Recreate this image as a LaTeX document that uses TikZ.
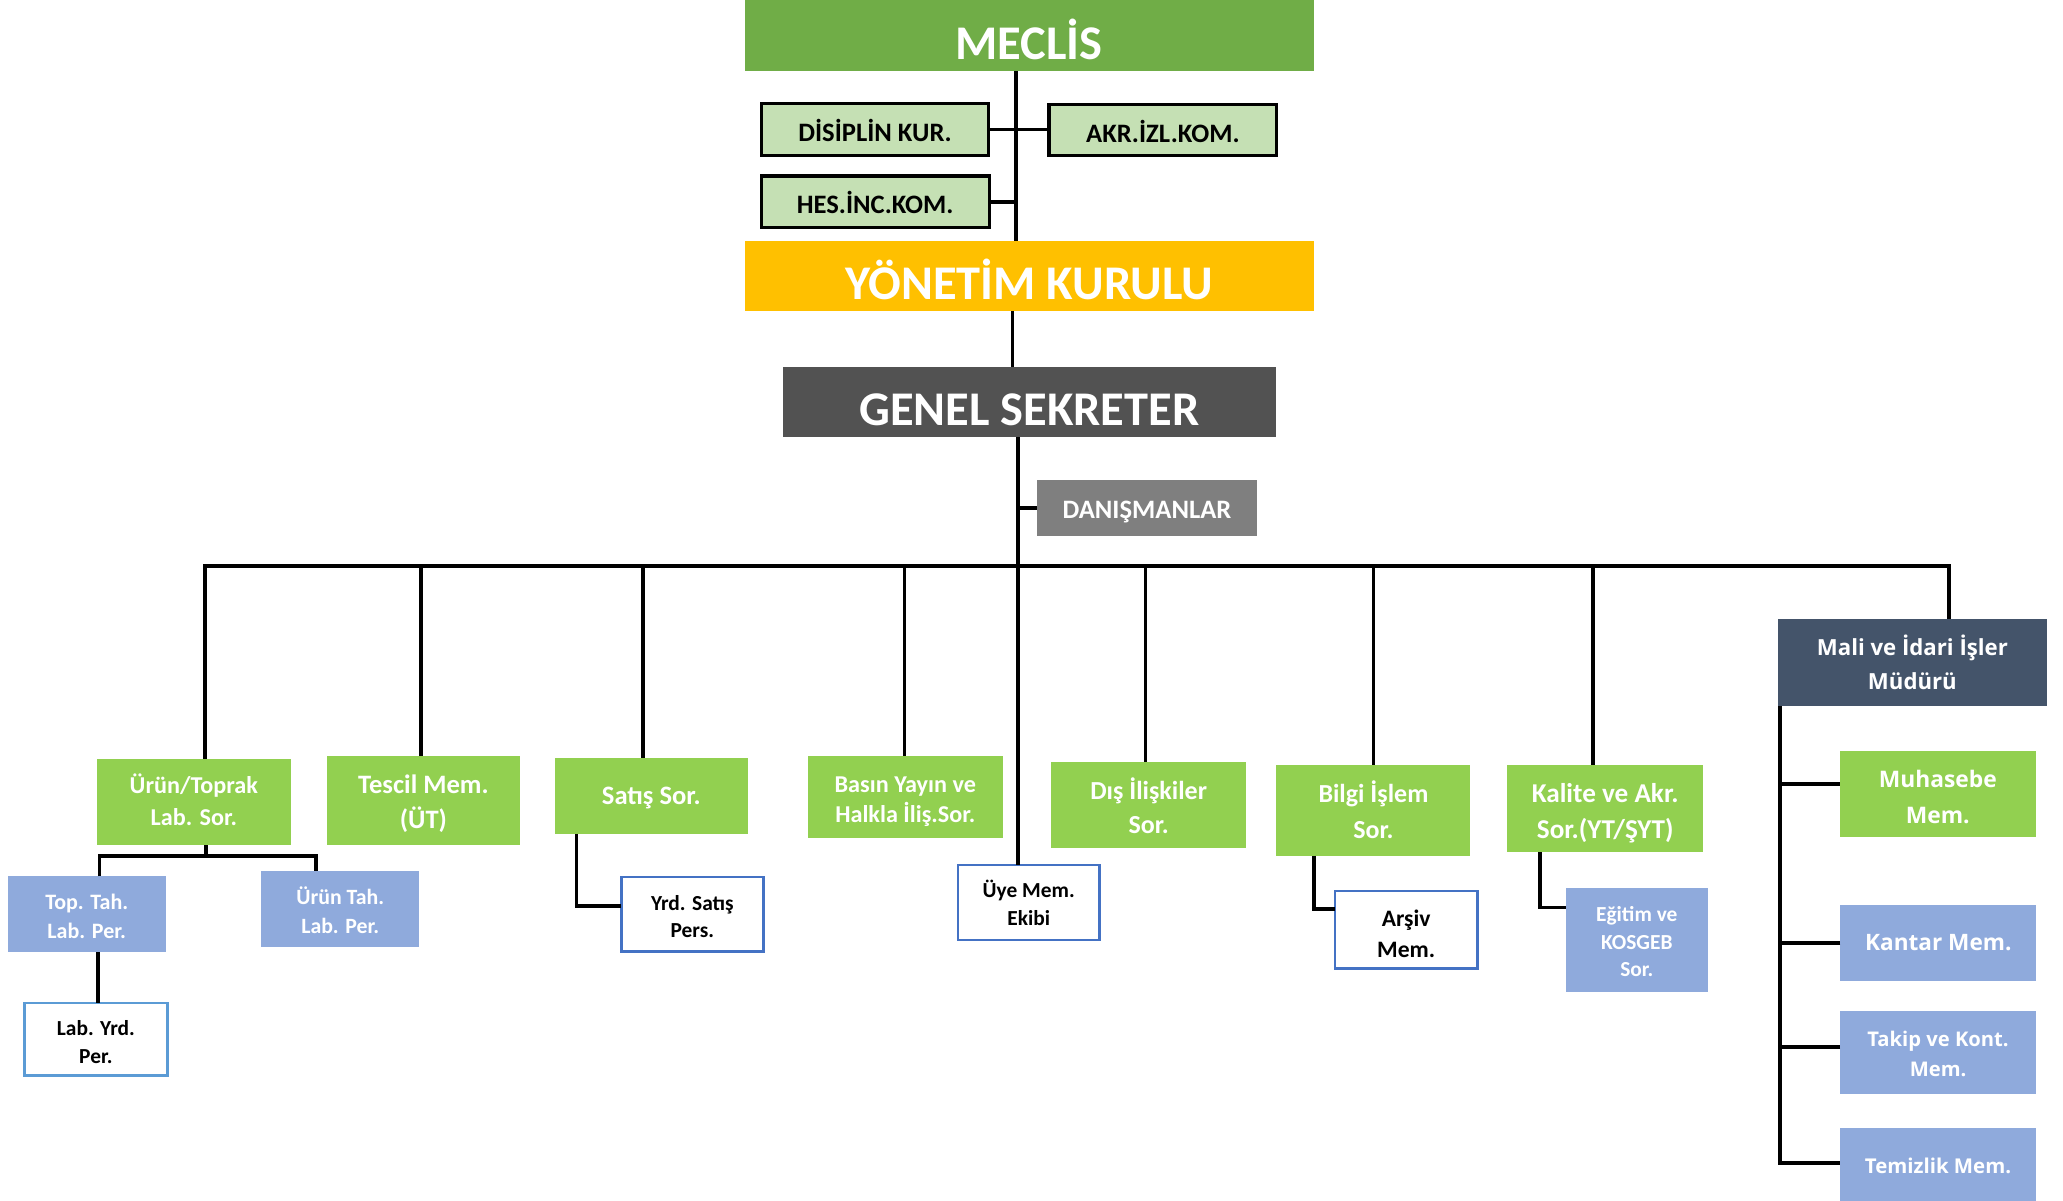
\documentclass[tikz,border=0pt]{standalone}
\usepackage{fontspec}
\setmainfont{Carlito}
\newfontfamily\osans{Open Sans}
\usetikzlibrary{calc}
\definecolor{cMeclis}{HTML}{70AD47}
\definecolor{cKom}{HTML}{C5E0B4}
\definecolor{cYon}{HTML}{FFC000}
\definecolor{cGen}{HTML}{525252}
\definecolor{cDan}{HTML}{7F7F7F}
\definecolor{cGreen}{HTML}{92D050}
\definecolor{cBlue}{HTML}{8FAADC}
\definecolor{cNavy}{HTML}{44546A}
\definecolor{cBorder}{HTML}{4472C4}
\definecolor{cBorderL}{HTML}{5B9BD5}
\newcommand{\myfs}[2]{\fontsize{#1}{#2}\selectfont\bfseries}
% multi-line text with fixed first-line height / last-line depth (Carlito / Open Sans)
\newcommand{\mlc}[2]{\rule{0pt}{\dimexpr0.944em+#1pt\relax}#2\rule[-0.3em]{0pt}{0.3em}}
\newcommand{\mlo}[2]{\rule{0pt}{\dimexpr1.014em+#1pt\relax}#2\rule[-0.3em]{0pt}{0.3em}}
\newcommand{\orgbox}[7]{\node[#1, anchor=north west, minimum width={(#4-#2)*0.66125pt}, minimum height={(#5-#3)*0.66125pt}] (#6) at (#2,#3) {#7};}
\tikzset{
  bx/.style={rectangle, inner sep=1pt, outer sep=0pt, align=center},
  big/.style={bx, text=white, font=\myfs{24.2}{28}, text height=23.5pt, text depth=0pt},
  kom/.style={bx, fill=cKom, draw=black, line width=1.6pt, text=black, font=\myfs{13.3}{16}, text height=12.2pt, text depth=0pt},
  gbox/.style={bx, fill=cGreen, text=white},
  bbox/.style={bx, fill=cBlue, text=white},
  wbox/.style={bx, fill=white, draw=cBorder, line width=1.3pt, text=black},
  conn/.style={line width=1.9pt, draw=black},
  busline/.style={line width=2pt, draw=black}
}
\begin{document}
\begin{tikzpicture}[x=0.66125pt, y=-0.66125pt]
\useasboundingbox (0,0) rectangle (1560,908);

% top chain
\orgbox{big, fill=cMeclis}{563}{0}{993.4}{54}{meclis}{MECLİS}
\orgbox{kom}{575.6}{78.3}{747.7}{117.5}{disiplin}{DİSİPLİN KUR.}
\orgbox{kom}{793.2}{79.1}{965.5}{117.7}{akr}{AKR.İZL.KOM.}
\orgbox{kom}{575.6}{133.1}{748}{172}{hes}{HES.İNC.KOM.}
\orgbox{big, fill=cYon}{563}{182.4}{993.4}{235.4}{yonetim}{YÖNETİM KURULU}
\orgbox{big, fill=cGen}{591.8}{277.7}{964.8}{330.8}{genel}{GENEL SEKRETER}
\orgbox{bx, fill=cDan, text=white, font=\myfs{13.3}{16}, text height=10.4pt, text depth=0pt}{784.1}{362.7}{950.6}{405}{dan}{DANIŞMANLAR}

% second level
\orgbox{gbox, font=\myfs{12.1}{16}}{73.3}{573.6}{219.9}{639.2}{urun}{\mlc{-0.6}{Ürün/Toprak\\Lab. Sor.}}
\orgbox{gbox, font=\myfs{13.3}{17.8}}{246.9}{571.7}{393.5}{639.2}{tescil}{\mlc{1.7}{Tescil Mem.\\(ÜT)}}
\orgbox{gbox, font=\myfs{13.3}{16}, text height=8.6pt, text depth=0pt}{419.4}{573}{565.6}{630.5}{satis}{Satış Sor.}
\orgbox{gbox, font=\myfs{12.1}{15}}{611}{571.7}{758.1}{633.9}{basin}{\mlc{2.8}{Basın Yayın ve\\Halkla İliş.Sor.}}
\orgbox{gbox, font=\myfs{13}{17}}{795}{575.9}{942.2}{641.5}{disil}{\mlc{3.6}{Dış İlişkiler\\Sor.}}
\orgbox{gbox, font=\myfs{13}{18}}{965.2}{578.4}{1111.9}{647}{bilgi}{\mlc{2}{Bilgi İşlem\\Sor.}}
\orgbox{gbox, font=\myfs{13.6}{17.7}}{1139.7}{578.4}{1287.9}{644.5}{kalite}{\mlc{3.3}{Kalite ve Akr.\\Sor.(YT/ŞYT)}}
\orgbox{bx, fill=cNavy, text=white, font={\osans\myfs{11.1}{17}}}{1344.4}{467.9}{1547.8}{534.2}{mali}{\mlo{2.2}{Mali ve İdari İşler\\Müdürü}}

% third level
\orgbox{bbox, font=\myfs{11}{14.3}}{5.8}{662.7}{125.4}{720.2}{toptah}{\mlc{2.4}{Top. Tah.\\Lab. Per.}}
\orgbox{bbox, font=\myfs{10.9}{14.3}}{197.5}{658.9}{317.1}{716.1}{uruntah}{\mlc{2.8}{Ürün Tah.\\Lab. Per.}}
\orgbox{wbox, draw=cBorderL, font=\myfs{10.7}{14}}{18.5}{758.5}{126.5}{813.4}{labyrd}{\mlc{2.9}{Lab. Yrd.\\Per.}}
\orgbox{wbox, font=\myfs{10.7}{13.8}}{469.9}{663.2}{577.2}{719.4}{yrdsatis}{\mlc{2.9}{Yrd. Satış\\Pers.}}
\orgbox{wbox, font=\myfs{10.7}{14.2}}{724.3}{654.1}{831.5}{710.8}{uye}{\mlc{2}{Üye Mem.\\Ekibi}}
\orgbox{wbox, font=\myfs{11.8}{15.7}}{1009.5}{673.7}{1117.1}{732.2}{arsiv}{\mlc{4.8}{Arşiv\\Mem.}}
\orgbox{bbox, font=\myfs{10.7}{13.8}}{1184.2}{671.7}{1291.2}{749.8}{egitim}{\mlc{2.4}{Eğitim ve\\KOSGEB\\Sor.}}

% right column
\orgbox{gbox, font={\osans\myfs{11.4}{18}}}{1391.3}{567.7}{1539.3}{633}{muhasebe}{\mlo{3.2}{Muhasebe\\Mem.}}
\orgbox{bbox, font={\osans\myfs{11.3}{14}}, text height=8.1pt, text depth=0pt}{1391.6}{684.1}{1539.8}{741.5}{kantar}{Kantar Mem.}
\orgbox{bbox, font={\osans\myfs{10.1}{15}}}{1391.5}{764.4}{1539.5}{827.5}{takip}{\mlo{2}{Takip ve Kont.\\Mem.}}
\orgbox{bbox, font={\osans\myfs{10.2}{14}}, text height=7.3pt, text depth=0pt}{1391.5}{853}{1539.5}{910}{temizlik}{Temizlik Mem.}

% connectors: top chain
\coordinate (spA) at (768.3,0);
\coordinate (spB) at (765.6,0);
\coordinate (spC) at (769.7,0);
\draw[conn] (meclis.south -| spA) -- (yonetim.north -| spA);
\draw[conn] (disiplin.east) -- (disiplin.east -| akr.west);
\draw[conn] (hes.east) -- (hes.east -| spA);
\draw[conn] (yonetim.south -| spB) -- (genel.north -| spB);
\draw[conn] (genel.south -| spC) -- (uye.north -| spC);
\draw[conn] (dan.west) -- (dan.west -| spC);

% bus
\coordinate (busL) at (155.1,428);
\coordinate (busR) at (1474,428);
\draw[busline] (urun.north -| busL) |- (busR) -- (mali.north -| busR);
\foreach \n/\x in {tescil/318.3, satis/486.1, basin/683.9, disil/866.2, bilgi/1038.6, kalite/1204.6}{
  \coordinate (d\n) at (\x,428);
  \draw[conn] (d\n) -- (\n.north -| d\n);
}

% Ürün/Toprak subtree
\coordinate (uM) at (155.8,647.3);
\coordinate (uL) at (75.2,647.3);
\coordinate (uR) at (239.2,647.3);
\draw[conn] (urun.south -| uM) -- (uM);
\draw[conn] (toptah.north -| uL) |- (uR) -- (uruntah.north -| uR);
\coordinate (tl) at (74.1,0);
\draw[conn] (toptah.south -| tl) -- (labyrd.north -| tl);

% other subtrees
\coordinate (sx) at (435.9,0);
\draw[conn] (satis.south -| sx) |- ([yshift=4.1pt]yrdsatis.west);
\coordinate (bgx) at (993.9,0);
\draw[conn] (bilgi.south -| bgx) |- ([yshift=10.2pt]arsiv.west);
\coordinate (kx) at (1164.8,0);
\draw[conn] (kalite.south -| kx) |- ([yshift=16.2pt]egitim.west);

% Mali column
\coordinate (mx) at (1346,0);
\draw[conn] (mali.south -| mx) |- ([yshift=1.3pt]temizlik.west);
\coordinate (mb1) at ([yshift=5.1pt]muhasebe.west);
\draw[conn] (mb1) -- (mb1 -| mx);
\draw[conn] (kantar.west) -- (kantar.west -| mx);
\coordinate (mb3) at ([yshift=2.7pt]takip.west);
\draw[conn] (mb3) -- (mb3 -| mx);
\end{tikzpicture}
\end{document}
